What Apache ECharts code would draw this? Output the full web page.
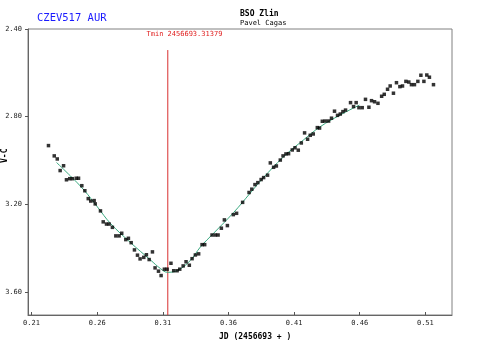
<!DOCTYPE html>
<html>
<head>
<meta charset="utf-8">
<script src="https://cdn.jsdelivr.net/npm/echarts@6/dist/echarts.min.js"></script>
<style>
  html, body { margin: 0; padding: 0; background: #fff; }
  #chart { width: 480px; height: 343px; }
</style>
</head>
<body>
<div id="chart"></div>
<script>
// observed V-C points (JD - 2456693, mag)
const obsJd = [
  0.2229, 0.2273, 0.2296, 0.2318, 0.2344, 0.2366, 0.2391, 0.2410, 0.2440, 0.2458,
  0.2483, 0.2506, 0.2532, 0.2551, 0.2577, 0.2585, 0.2625, 0.2646, 0.2671, 0.2691,
  0.2716, 0.2742, 0.2767, 0.2787, 0.2818, 0.2838, 0.2859, 0.2884, 0.2907, 0.2927,
  0.2955, 0.2975, 0.2996, 0.3021, 0.3041, 0.3067, 0.3087, 0.3112, 0.3133, 0.3162,
  0.3183, 0.3209, 0.3229, 0.3255, 0.3277, 0.3302, 0.3323, 0.3348, 0.3373, 0.3399,
  0.3419, 0.3475, 0.3500, 0.3521, 0.3546, 0.3569, 0.3592, 0.3637, 0.3662, 0.3708,
  0.3757, 0.3778, 0.3802, 0.3824, 0.3849, 0.3868, 0.3898, 0.3919, 0.3944, 0.3965,
  0.3995, 0.4016, 0.4038, 0.4058, 0.4086, 0.4107, 0.4132, 0.4155, 0.4180, 0.4203,
  0.4223, 0.4246, 0.4277, 0.4294, 0.4315, 0.4337, 0.4363, 0.4385, 0.4408, 0.4431,
  0.4452, 0.4472, 0.4492, 0.4530, 0.4553, 0.4573, 0.4594, 0.4619, 0.4644, 0.4670,
  0.4690, 0.4713, 0.4739, 0.4767, 0.4787, 0.4812, 0.4832, 0.4857, 0.4880, 0.4906,
  0.4926, 0.4952, 0.4974, 0.4994, 0.5017, 0.5043, 0.5066, 0.5089, 0.5111, 0.5131,
  0.5162
];
const obsMag = [
  2.932, 2.979, 2.993, 3.046, 3.024, 3.088, 3.083, 3.083, 3.081, 3.081,
  3.115, 3.138, 3.174, 3.185, 3.183, 3.198, 3.230, 3.280, 3.290, 3.290,
  3.305, 3.344, 3.344, 3.332, 3.361, 3.355, 3.375, 3.408, 3.432, 3.449,
  3.442, 3.430, 3.452, 3.417, 3.490, 3.505, 3.525, 3.496, 3.496, 3.469,
  3.503, 3.503, 3.496, 3.481, 3.462, 3.478, 3.448, 3.431, 3.426, 3.384,
  3.384, 3.340, 3.340, 3.340, 3.309, 3.271, 3.297, 3.247, 3.241, 3.191,
  3.146, 3.131, 3.110, 3.101, 3.087, 3.078, 3.067, 3.011, 3.031, 3.025,
  2.998, 2.979, 2.970, 2.969, 2.952, 2.942, 2.953, 2.920, 2.874, 2.903,
  2.885, 2.879, 2.850, 2.852, 2.821, 2.820, 2.820, 2.807, 2.775, 2.794,
  2.788, 2.777, 2.770, 2.736, 2.754, 2.736, 2.759, 2.759, 2.721, 2.757,
  2.727, 2.732, 2.739, 2.707, 2.698, 2.675, 2.660, 2.693, 2.645, 2.663,
  2.660, 2.639, 2.642, 2.654, 2.654, 2.639, 2.611, 2.639, 2.610, 2.620,
  2.654
];

// fitted curve
const fitJd = [0.2290, 0.2397, 0.2498, 0.2602, 0.2701, 0.2853, 0.3006, 0.3082, 0.3135, 0.3211,
  0.3310, 0.3386, 0.3487, 0.3640, 0.3767, 0.3858, 0.4020, 0.4172, 0.4299, 0.4452, 0.4598];
const fitMag = [3.009, 3.071, 3.134, 3.212, 3.287, 3.374, 3.454, 3.493, 3.510, 3.502,
  3.456, 3.395, 3.332, 3.237, 3.148, 3.084, 2.983, 2.906, 2.846, 2.792, 2.747];

const tmin = 0.31379;
const tminSpan = [2.496, 3.705];

const xTicks = [0.21, 0.26, 0.31, 0.36, 0.41, 0.46, 0.51];
const yTicks = [2.40, 2.80, 3.20, 3.60];

const mono = 'DejaVu Sans Mono';
const chart = echarts.init(document.getElementById('chart'));

chart.setOption({
  animation: false,
  backgroundColor: '#fff',
  grid: { left: 28, right: 28, top: 29, bottom: 28, show: true, borderColor: '#808080', borderWidth: 1 },
  xAxis: {
    type: 'value', min: 0.2073, max: 0.5303,
    axisLine: { lineStyle: { color: '#666' } },
    axisTick: { inside: true, length: 3, customValues: xTicks, lineStyle: { color: '#555' } },
    axisLabel: { customValues: xTicks, formatter: v => v.toFixed(2), fontFamily: mono, fontSize: 7, color: '#222', margin: 5 },
    splitLine: { show: false }
  },
  yAxis: {
    type: 'value', inverse: true, min: 2.40, max: 3.705,
    axisLine: { show: true, lineStyle: { color: '#666' } },
    axisTick: { show: true, length: 3, customValues: yTicks, lineStyle: { color: '#555' } },
    axisLabel: { customValues: yTicks, formatter: v => v.toFixed(2), fontFamily: mono, fontSize: 7, color: '#222', margin: 6 },
    splitLine: { show: false }
  },
  graphic: [
    { type: 'text', left: 37, top: 13, style: { text: 'CZEV517 AUR', font: '10.5px ' + mono, fill: '#1a1aff' } },
    { type: 'text', left: 240, top: 10, style: { text: 'BSO Zlin', font: 'bold 8px ' + mono, fill: '#000' } },
    { type: 'text', left: 240, top: 19.5, style: { text: 'Pavel Cagas', font: '7px ' + mono, fill: '#000' } },
    { type: 'text', left: 146.5, top: 31, style: { text: 'Tmin 2456693.31379', font: '7px ' + mono, fill: '#e02020' } },
    { type: 'text', left: 219, top: 333, style: { text: 'JD (2456693 + )', font: 'bold 8px ' + mono, fill: '#000' } },
    { type: 'text', x: 1, y: 163, rotation: Math.PI / 2, style: { text: 'V-C', font: 'bold 8px ' + mono, fill: '#000' } }
  ],
  series: [
    {
      type: 'line', data: tminSpan.map(m => [tmin, m]), symbol: 'none',
      lineStyle: { color: '#d93030', width: 1 }, z: 1
    },
    {
      type: 'line', data: fitJd.map((x, i) => [x, fitMag[i]]), symbol: 'none', smooth: 0.4,
      lineStyle: { color: '#3aaa80', width: 1 }, z: 2
    },
    {
      type: 'scatter', data: obsJd.map((x, i) => [x, obsMag[i]]), symbol: 'rect', symbolSize: 3.5,
      itemStyle: { color: '#000' }, z: 3
    }
  ]
});
</script>
</body>
</html>
